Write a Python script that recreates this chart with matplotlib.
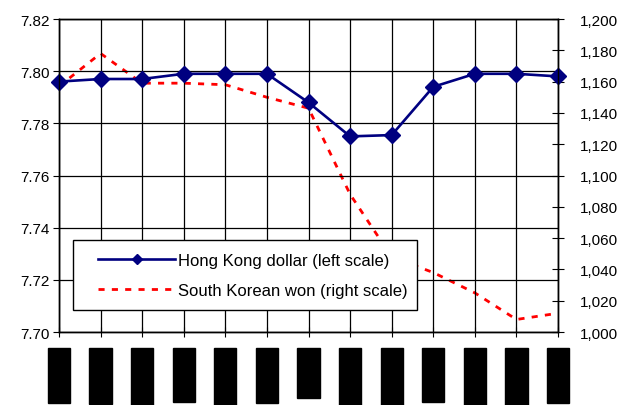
import matplotlib.pyplot as plt
from matplotlib.ticker import FuncFormatter
from matplotlib.legend_handler import HandlerLine2D

plt.rcParams['font.family'] = ['Liberation Sans', 'DejaVu Sans']

# monthly observations
months = ['Jan-04', 'Feb-04', 'Mar-04', 'Apr-04', 'May-04', 'Jun-04', 'Jul-04',
          'Aug-04', 'Sep-04', 'Oct-04', 'Nov-04', 'Dec-04', 'Jan-05']
hkd = [7.796, 7.797, 7.797, 7.799, 7.799, 7.799, 7.788,
       7.775, 7.7755, 7.794, 7.799, 7.799, 7.798]
krw = [1157, 1178, 1159, 1159, 1158, 1150, 1143,
       1088, 1048, 1038, 1025, 1008, 1012]

fig = plt.figure(figsize=(6.17, 4.06), dpi=100)
ax1 = fig.add_axes([0.0956, 0.1798, 0.8088, 0.7709])
ax2 = ax1.twinx()
ax1.set_zorder(ax2.get_zorder() + 1)
ax1.patch.set_visible(False)

x = list(range(len(months)))
l2, = ax2.plot(x, krw, color='#ff0000', lw=2, ls=(0, (2.2, 2.6)),
               label='South Korean won (right scale)', clip_on=False)
l1, = ax1.plot(x, hkd, color='#000080', lw=1.9, marker='D', ms=8,
               label='Hong Kong dollar (left scale)', clip_on=False)

ax1.set_xlim(0, 12)
ax1.set_ylim(7.70, 7.82)
ax1.set_yticks([7.70, 7.72, 7.74, 7.76, 7.78, 7.80, 7.82])
ax1.yaxis.set_major_formatter(FuncFormatter(lambda v, p: '%.2f' % v))
ax2.set_ylim(1000, 1200)
ax2.set_yticks(range(1000, 1201, 20))
ax2.yaxis.set_major_formatter(FuncFormatter(lambda v, p: '{:,.0f}'.format(v)))

# gridlines and the (blacked-out) month labels
ax1.grid(True, color='black', lw=0.9)
ax1.set_xticks(x)
ax1.set_xticklabels(months, rotation=90, fontsize=11, color='black', va='top',
                    bbox=dict(facecolor='black', edgecolor='black', pad=3))
ax1.tick_params(axis='x', direction='inout', length=7, pad=11)
ax1.tick_params(axis='y', direction='out', length=4, labelsize=11, pad=3)
ax2.tick_params(axis='y', direction='inout', length=8, labelsize=11, pad=11.5)
for ax in (ax1, ax2):
    for s in ax.spines.values():
        s.set_color('black')
        s.set_linewidth(1)

hm = {l1: HandlerLine2D(xpad=0.75), l2: HandlerLine2D(xpad=0.75)}
leg = ax1.legend(handles=[l1, l2], loc='lower left',
                 bbox_to_anchor=(0.028, 0.070, 0.689, 0.227), mode='expand',
                 fontsize=12, handlelength=5.4, labelspacing=0.9,
                 borderaxespad=0, borderpad=0.75, handletextpad=0.15,
                 handler_map=hm, fancybox=False, framealpha=1,
                 edgecolor='black', markerscale=0.6)
leg.get_frame().set_linewidth(1)

fig.savefig('out.png', dpi=100)
